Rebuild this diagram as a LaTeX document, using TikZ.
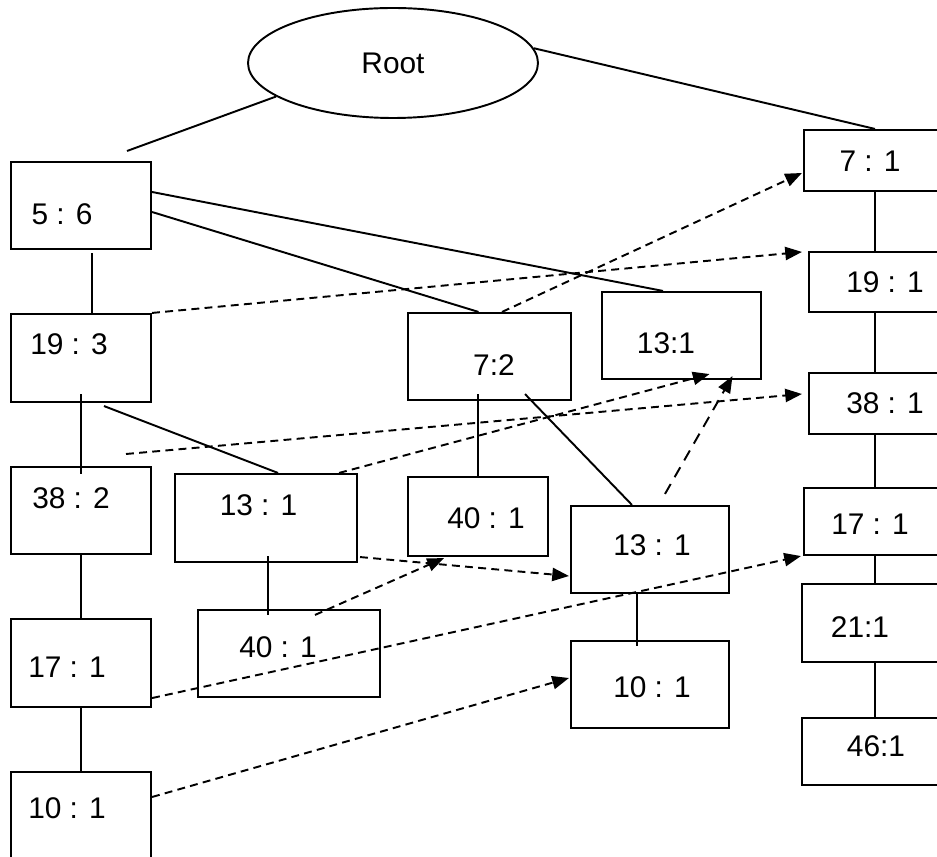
\documentclass[tikz,border=0pt]{standalone}
\usepackage{fontspec}
\setmainfont{Liberation Sans}
\usetikzlibrary{shapes.geometric, arrows.meta, calc}

\begin{document}
\begin{tikzpicture}[
  x=0.02cm, y=-0.02cm,
  font=\fontsize{17}{20}\selectfont,
  box/.style 2 args={draw, line width=1.2pt, minimum width=#1*0.02cm, minimum height=#2*0.02cm, inner sep=0pt},
  link/.style={line width=1.1pt},
  ptr/.style={line width=1.1pt, dash pattern=on 4.5pt off 3pt, -{Triangle[length=9.5pt, width=7.5pt]}},
  lptr/.style={ptr, dash pattern=on 6.5pt off 4.5pt},
]
  \clip (0,0) rectangle (937,857);

  \node[ellipse, draw, line width=1.1pt, inner sep=0pt, minimum width=290*0.02cm, minimum height=110*0.02cm] (root) at (393,63) {Root};
  \coordinate (rootend) at (127,151);
  \coordinate (dstart) at (126,454);

  \node[box={140}{87}, label={[shift={(-19,8.5)}]center:{5 : 6}}] (n56) at (81,205.5) {};
  \node[box={140}{88}, label={[shift={(-12,-14)}]center:{19 : 3}}] (n193) at (81,358) {};
  \node[box={140}{87}, label={[shift={(-10,-12.5)}]center:{38 : 2}}] (n382) at (81,510.5) {};
  \node[box={140}{88}, label={[shift={(-14,4)}]center:{17 : 1}}] (n171l) at (81,663) {};
  \node[box={140}{88}, label={[shift={(-14,-8)}]center:{10 : 1}}] (n101l) at (81,816) {};

  \node[box={182}{88}, label={[shift={(-7.5,-13)}]center:{13 : 1}}] (n131a) at (266,518) {};
  \node[box={182}{87}, label={[shift={(-11,-6.5)}]center:{40 : 1}}] (n401b) at (289,653.5) {};
  \node[box={163}{87}, label={[shift={(4.5,8.5)}]center:{7:2}}] (n72) at (489.5,356.5) {};
  \node[box={140}{79}, label={[shift={(8,1.5)}]center:{40 : 1}}] (n401a) at (478,516.5) {};
  \node[box={159}{87}, label={[shift={(-15.5,7.5)}]center:{13:1}}] (n131b) at (681.5,335.5) {};
  \node[box={158}{87}, label={[shift={(2,-4.5)}]center:{13 : 1}}] (n131c) at (650,549.5) {};
  \node[box={158}{87}, label={[shift={(2,2.5)}]center:{10 : 1}}] (n101d) at (650,684.5) {};

  \node[box={142}{61}, label={[shift={(-5,0.5)}]center:{7 : 1}}] (n71) at (875,160.5) {};
  \node[box={132}{60}, label={[shift={(10,0)}]center:{19 : 1}}] (n191) at (875,282) {};
  \node[box={132}{61}, label={[shift={(10,-0.5)}]center:{38 : 1}}] (n381) at (875,403.5) {};
  \node[box={142}{67}, label={[shift={(-5,2.5)}]center:{17 : 1}}] (n171r) at (875,521.5) {};
  \node[box={146}{78}, label={[shift={(-15,4)}]center:{21:1}}] (n211) at (875,623) {};
  \node[box={146}{67}, label={[shift={(1,-5.5)}]center:{46:1}}] (n461) at (875,751.5) {};

  \draw[link] (root.196) -- (rootend);
  \draw[link] (root.6) -- (n71.north);
  \draw[link] ($(n56.south)+(11,3)$) -- ($(n193.north)+(11,0)$);
  \draw[link] ($(n193.south)+(0,-9)$) -- ($(n382.north)+(0,8)$);
  \draw[link] (n382.south) -- (n171l.north);
  \draw[link] (n171l.south) -- (n101l.north);
  \draw[link] ($(n193.south)+(23,3)$) -- ($(n131a.north)+(12,0)$);
  \draw[link] ($(n56.east)+(0,6.5)$) -- ($(n72.north)+(-11,0)$);
  \draw[link] ($(n56.east)+(0,-13.5)$) -- ($(n131b.north)+(-18.5,0)$);
  \draw[link] ($(n72.south)+(-11.5,-7)$) -- (n401a.north);
  \draw[link] ($(n72.south)+(35.5,-7)$) -- ($(n131c.north)+(-18,0)$);
  \draw[link] ($(n131a.south)+(2,-7)$) -- ($(n401b.north)+(-21,6)$);
  \draw[link] ($(n131c.south)+(-13,0)$) -- ($(n101d.north)+(-13,6)$);
  \draw[link] (n71.south) -- (n191.north);
  \draw[link] (n191.south) -- (n381.north);
  \draw[link] (n381.south) -- (n171r.north);
  \draw[link] (n171r.south) -- (n211.north);
  \draw[link] (n211.south) -- (n461.north);

  \draw[ptr] ($(n72.north)+(12.5,0)$) -- ($(n71.west)+(-1,12.5)$);
  \draw[ptr] (n193.north east) -- ($(n191.north west)+(-6,1)$);
  \draw[ptr] (dstart) -- ($(n381.west)+(-6,-9.5)$);
  \draw[ptr] ($(n131a.north east)+(-19,0)$) -- ($(n131b.south)+(28,-6)$);
  \draw[lptr] ($(n131c.north)+(15,-11)$) -- ($(n131b.south)+(51,-4)$);
  \draw[ptr] ($(n131a.south east)+(2,-6)$) -- ($(n131c.west)+(-1,26.5)$);
  \draw[ptr] ($(n401b.north)+(26,6)$) -- ($(n401a.south)+(-34,1)$);
  \draw[ptr] ($(n171l.south east)+(0,-10)$) -- ($(n171r.south west)+(-2,0)$);
  \draw[ptr] ($(n101l.east)+(0,-19)$) -- ($(n101d.west)+(-1,-6.5)$);
\end{tikzpicture}
\end{document}
